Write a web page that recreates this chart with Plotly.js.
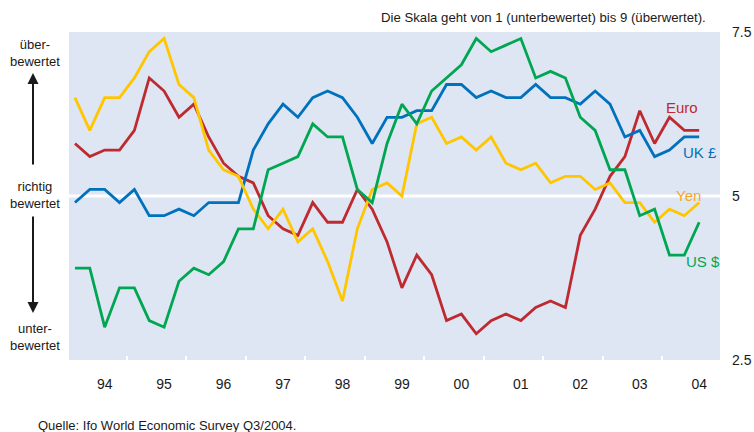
<!DOCTYPE html>
<html>
<head>
<meta charset="utf-8">
<script src="https://cdn.plot.ly/plotly-3.0.1.min.js"></script>
<style>html,body{margin:0;padding:0;background:#fff;}#chart{width:754px;height:432px;}</style>
</head>
<body>
<div id="chart"></div>
<script>
// Quarterly survey values, 1994 Q1 .. 2004 Q3 (scale 1..9)
const years = ['94','95','96','97','98','99','00','01','02','03','04'];
const euro = [5.8,5.6,5.7,5.7,6.0,6.8,6.6,6.2,6.4,5.9,5.5,5.3,5.2,4.7,4.5,4.4,4.9,4.6,4.6,5.1,4.8,4.3,3.6,4.1,3.8,3.1,3.2,2.9,3.1,3.2,3.1,3.3,3.4,3.3,4.4,4.8,5.3,5.6,6.3,5.8,6.2,6.0,6.0];
const ukPound = [4.9,5.1,5.1,4.9,5.1,4.7,4.7,4.8,4.7,4.9,4.9,4.9,5.7,6.1,6.4,6.2,6.5,6.6,6.5,6.2,5.8,6.2,6.2,6.3,6.3,6.7,6.7,6.5,6.6,6.5,6.5,6.7,6.5,6.5,6.4,6.6,6.4,5.9,6.0,5.6,5.7,5.9,5.9];
const yen = [6.5,6.0,6.5,6.5,6.8,7.2,7.4,6.7,6.5,5.7,5.4,5.3,4.8,4.5,4.8,4.3,4.5,4.0,3.4,4.5,5.1,5.2,5.0,6.1,6.2,5.8,5.9,5.7,5.9,5.5,5.4,5.5,5.2,5.3,5.3,5.1,5.2,4.9,4.9,4.6,4.8,4.7,4.9];
const usDollar = [3.9,3.9,3.0,3.6,3.6,3.1,3.0,3.7,3.9,3.8,4.0,4.5,4.5,5.4,5.5,5.6,6.1,5.9,5.9,5.1,4.9,5.8,6.4,6.1,6.6,6.8,7.0,7.4,7.2,7.3,7.4,6.8,6.9,6.8,6.2,6.0,5.4,5.4,4.7,4.8,4.1,4.1,4.6];
const yTicks = [2.5, 5, 7.5];
const neutral = 5;

const seriesNames = ['Euro','UK £','Yen','US $'];
const seriesData = [euro, ukPound, yen, usDollar];
const lineColors = ['#BE2A30','#0071BC','#FFC600','#00A651'];
const labelColors = ['#BE2A30','#0071BC','#F5A623','#00A651'];

const n = euro.length;
const xIdx = Array.from({length: n}, (_, i) => i);
// Year labels centred on the third quarter of each year; tick marks between years
const labelPos = years.map((_, k) => 4 * k + 2);
const boundaryPos = years.slice(0, -1).map((_, k) => 4 * k + 3.5);

const traces = seriesData.map((d, s) => ({
  x: xIdx, y: d, type: 'scatter', mode: 'lines', name: seriesNames[s],
  line: {color: lineColors[s], width: 2.8}, hoverinfo: 'skip'
}));

// pixel helpers for text placement around the plot
const L = 69, R = 34, T = 32, B = 72, W = 754, H = 432;
const pw = W - L - R, ph = H - T - B;
const px = x => (x - L) / pw;
const py = y => (H - B - y) / ph;

const FONT = 'Liberation Sans, Arial, Helvetica, sans-serif';
const txt = (text, x, y, size, color, xanchor) => ({
  text, xref: 'paper', yref: 'paper', x: px(x), y: py(y), showarrow: false,
  xanchor: xanchor || 'center', yanchor: 'middle',
  font: {family: FONT, size, color}
});

const annotations = [
  txt('Die Skala geht von 1 (unterbewertet) bis 9 (überwertet).', 708, 18, 13.2, '#1a1a1a', 'right'),
  txt('über-<br>bewertet', 35, 53, 13, '#1a1a1a'),
  txt('richtig<br>bewertet', 35, 195, 13, '#1a1a1a'),
  txt('unter-<br>bewertet', 35, 337, 13, '#1a1a1a'),
  txt('Quelle: Ifo World Economic Survey Q3/2004.', 36, 425, 13, '#1a1a1a', 'left'),
  txt(seriesNames[0], 682, 107, 15, labelColors[0]),
  txt(seriesNames[1], 700, 152, 15, labelColors[1]),
  txt(seriesNames[2], 688, 195, 15, labelColors[2]),
  txt(seriesNames[3], 703, 261, 15, labelColors[3]),
  {text: '', xref: 'paper', yref: 'paper', x: px(33), y: py(73), ax: 0, ay: 93,
   showarrow: true, arrowhead: 2, arrowsize: 1.1, arrowwidth: 2, arrowcolor: '#1a1a1a'},
  {text: '', xref: 'paper', yref: 'paper', x: px(33), y: py(313), ax: 0, ay: -98,
   showarrow: true, arrowhead: 2, arrowsize: 1.1, arrowwidth: 2, arrowcolor: '#1a1a1a'}
];

const layout = {
  width: W, height: H,
  margin: {l: L, r: R, t: T, b: B, pad: 0},
  paper_bgcolor: '#ffffff', plot_bgcolor: '#DFE6F3',
  showlegend: false,
  font: {family: FONT, size: 14, color: '#1a1a1a'},
  xaxis: {
    range: [-0.4, n - 1 + 1.4], showgrid: false, zeroline: false, showline: false,
    tickmode: 'array', tickvals: labelPos, ticktext: years, ticks: '',
    ticklabelstandoff: 14,
    tickfont: {family: FONT, size: 14, color: '#1a1a1a'},
    minor: {tickmode: 'array', tickvals: boundaryPos, ticks: 'inside', ticklen: 4,
            tickwidth: 2, tickcolor: '#ffffff', showgrid: false}
  },
  yaxis: {
    range: [2.5, 7.5], side: 'right', showgrid: false, zeroline: false, showline: false,
    tickmode: 'array', tickvals: yTicks, ticktext: yTicks.map(String), ticks: '',
    ticklabelstandoff: 11,
    tickfont: {family: FONT, size: 14, color: '#1a1a1a'}
  },
  shapes: [{type: 'line', xref: 'paper', yref: 'y', x0: 0, x1: 1, y0: neutral, y1: neutral,
            line: {color: '#ffffff', width: 3}, layer: 'below'}],
  annotations
};

Plotly.newPlot('chart', traces, layout, {staticPlot: true, displayModeBar: false});
</script>
</body>
</html>
